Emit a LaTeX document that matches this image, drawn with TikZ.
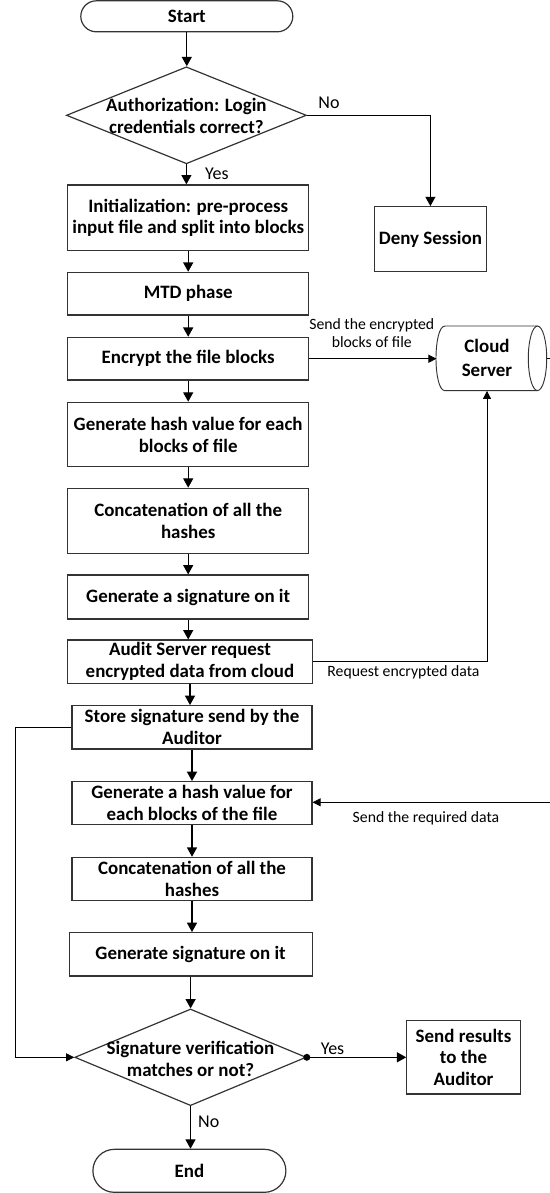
\documentclass[tikz,border=0pt]{standalone}
\usepackage{fontspec}
\setmainfont{Carlito}
\usetikzlibrary{shapes.geometric,shapes.misc,arrows.meta,calc}
\begin{document}
\begin{tikzpicture}[x=0.75pt,y=-0.75pt,
  bx/.style={draw=black!80, line width=0.9pt, rectangle, inner sep=0pt, align=center,
    font=\fontsize{14.2}{16.4}\selectfont\bfseries},
  term/.style={draw=black!80, line width=0.9pt, rounded rectangle, inner sep=0pt, align=center,
    font=\fontsize{14.2}{16.4}\selectfont\bfseries},
  decision/.style={draw=black!80, line width=0.9pt, diamond, inner sep=0pt, align=center,
    font=\fontsize{14.2}{16.4}\selectfont\bfseries},
  lbl/.style={inner sep=0pt, font=\fontsize{13.5}{15}\selectfont},
  small/.style={inner sep=0pt, align=center, font=\fontsize{11.8}{13.3}\selectfont},
  arr/.style={draw=black, line width=0.9pt, -{Triangle[length=7pt,width=7.5pt]}},
  thinarr/.style={draw=black, line width=0.6pt, -{Triangle[length=6pt,width=6pt]}},
  thinline/.style={draw=black, line width=0.6pt}
]
\useasboundingbox (0,0) rectangle (550,1193);

\node[term, minimum width=159pt, minimum height=23.25pt] (start) at (186.8,16.3) {Start};
\node[decision, minimum width=180pt, minimum height=72.75pt] (d1) at (186.4,115.3)
  {\makebox[0pt]{\smash{\raisebox{-5.5pt}{\begin{tabular}{@{}c@{}}Authorization: Login\\credentials correct?\end{tabular}}}}};
\node[bx, minimum width=180.75pt, minimum height=49.3pt] (init) at (188.2,217.8)
  {Initialization: pre-process\\input file and split into blocks};
\node[bx, minimum width=84pt, minimum height=48.75pt] (deny) at (430.4,239.2) {Deny Session};
\node[bx, minimum width=180.75pt, minimum height=32pt] (mtd) at (188.2,293.7) {MTD phase};
\node[bx, minimum width=180.75pt, minimum height=32pt] (enc) at (188.2,358.7) {Encrypt the file blocks};
\node[inner sep=0pt, align=center, minimum width=75.4pt, minimum height=48.5pt,
  font=\fontsize{14.2}{18}\selectfont\bfseries] (cloud) at (487,358.3) {Cloud\\Server};
\node[bx, minimum width=180.75pt, minimum height=48.3pt] (hash) at (188.2,434.5)
  {Generate hash value for each\\blocks of file};
\node[bx, minimum width=180.75pt, minimum height=48.75pt] (concat) at (188.2,520.8)
  {Concatenation of all the\\hashes};
\node[bx, minimum width=180.75pt, minimum height=33pt] (sig) at (188.2,597) {Generate a signature on it};
\node[bx, minimum width=183.4pt, minimum height=32.5pt] (audit) at (190,661.7)
  {Audit Server request\\encrypted data from cloud};
\node[bx, minimum width=180pt, minimum height=32.5pt] (store) at (192,727.3)
  {Store signature send by the\\Auditor};
\node[bx, minimum width=180pt, minimum height=32pt] (hash2) at (192,803)
  {Generate a hash value for\\each blocks of the file};
\node[bx, minimum width=180pt, minimum height=32.5pt] (concat2) at (192,879)
  {Concatenation of all the\\hashes};
\node[bx, minimum width=182.25pt, minimum height=32.5pt] (sig2) at (190.6,954.3) {Generate signature on it};
\node[decision, minimum width=173.6pt, minimum height=72.5pt] (d2) at (190.5,1057.3)
  {\makebox[0pt]{\smash{\raisebox{-6.5pt}{\begin{tabular}{@{}c@{}}Signature verification\\matches or not?\end{tabular}}}}};
\node[bx, minimum width=85pt, minimum height=55pt] (res) at (463.5,1057.3) {Send results\\to the\\Auditor};
\node[term, minimum width=144.75pt, minimum height=32.25pt] (end) at (189.4,1170.8) {End};

% cloud server shape
\coordinate (cface) at (546.7,358.3);
\coordinate (rout) at (550,358.3);
\coordinate (rin) at (550,802.3);
\draw[black!80, line width=0.7pt] (445,326) -- (537.5,326)
  (445,390.7) -- (537.5,390.7)
  (445,326) .. controls (433,326) and (433,390.7) .. (445,390.7);
\draw[black!80, line width=0.7pt] (537.5,358.3) ellipse [x radius=6.9pt, y radius=24.2pt];

% flow
\draw[arr] (start.south) -- (start.south |- d1.north);
\draw[arr] (d1.south) -- (d1.south |- init.north);
\draw[arr] (d1.east) -| (deny.north);
\draw[arr] (init.south) -- (init.south |- mtd.north);
\draw[arr] (mtd.south) -- (mtd.south |- enc.north);
\draw[arr] (enc.south) -- (enc.south |- hash.north);
\draw[arr] (hash.south) -- (hash.south |- concat.north);
\draw[arr] (concat.south) -- (concat.south |- sig.north);
\draw[arr] (sig.south) -- (sig.south |- audit.north);
\draw[arr] (audit.south) -- (audit.south |- store.north);
\draw[arr] (store.south) -- (store.south |- hash2.north);
\draw[arr] (hash2.south) -- (hash2.south |- concat2.north);
\draw[arr] (concat2.south) -- (concat2.south |- sig2.north);
\draw[arr] (sig2.south) -- (sig2.south |- d2.north);
\draw[arr] (d2.south) -- (d2.south |- end.north);
\draw[arr] (d2.east) -- (res.west);
\fill (d2.east) circle (2.6pt);
\draw[thinarr] (store.west) -- ++(-56.2,0) |- (d2.west);

\draw[thinarr] (enc.east) -- (enc.east -| cloud.west);
\draw[thinarr] (audit.east) -| (cloud.south);
\draw[thinline] (cface) -- (rout);
\draw[thinarr] (rin) -- (rin -| hash2.east);

% labels
\node[lbl] at (329,103) {No};
\node[lbl] at (216.8,174) {Yes};
\node[small] at (371.8,333) {Send the encrypted\\blocks of file};
\node[small] at (403.4,672.7) {Request encrypted data};
\node[small] at (426,818.3) {Send the required data};
\node[lbl] at (332.5,1048.3) {Yes};
\node[lbl] at (208.7,1121.7) {No};
\end{tikzpicture}
\end{document}
